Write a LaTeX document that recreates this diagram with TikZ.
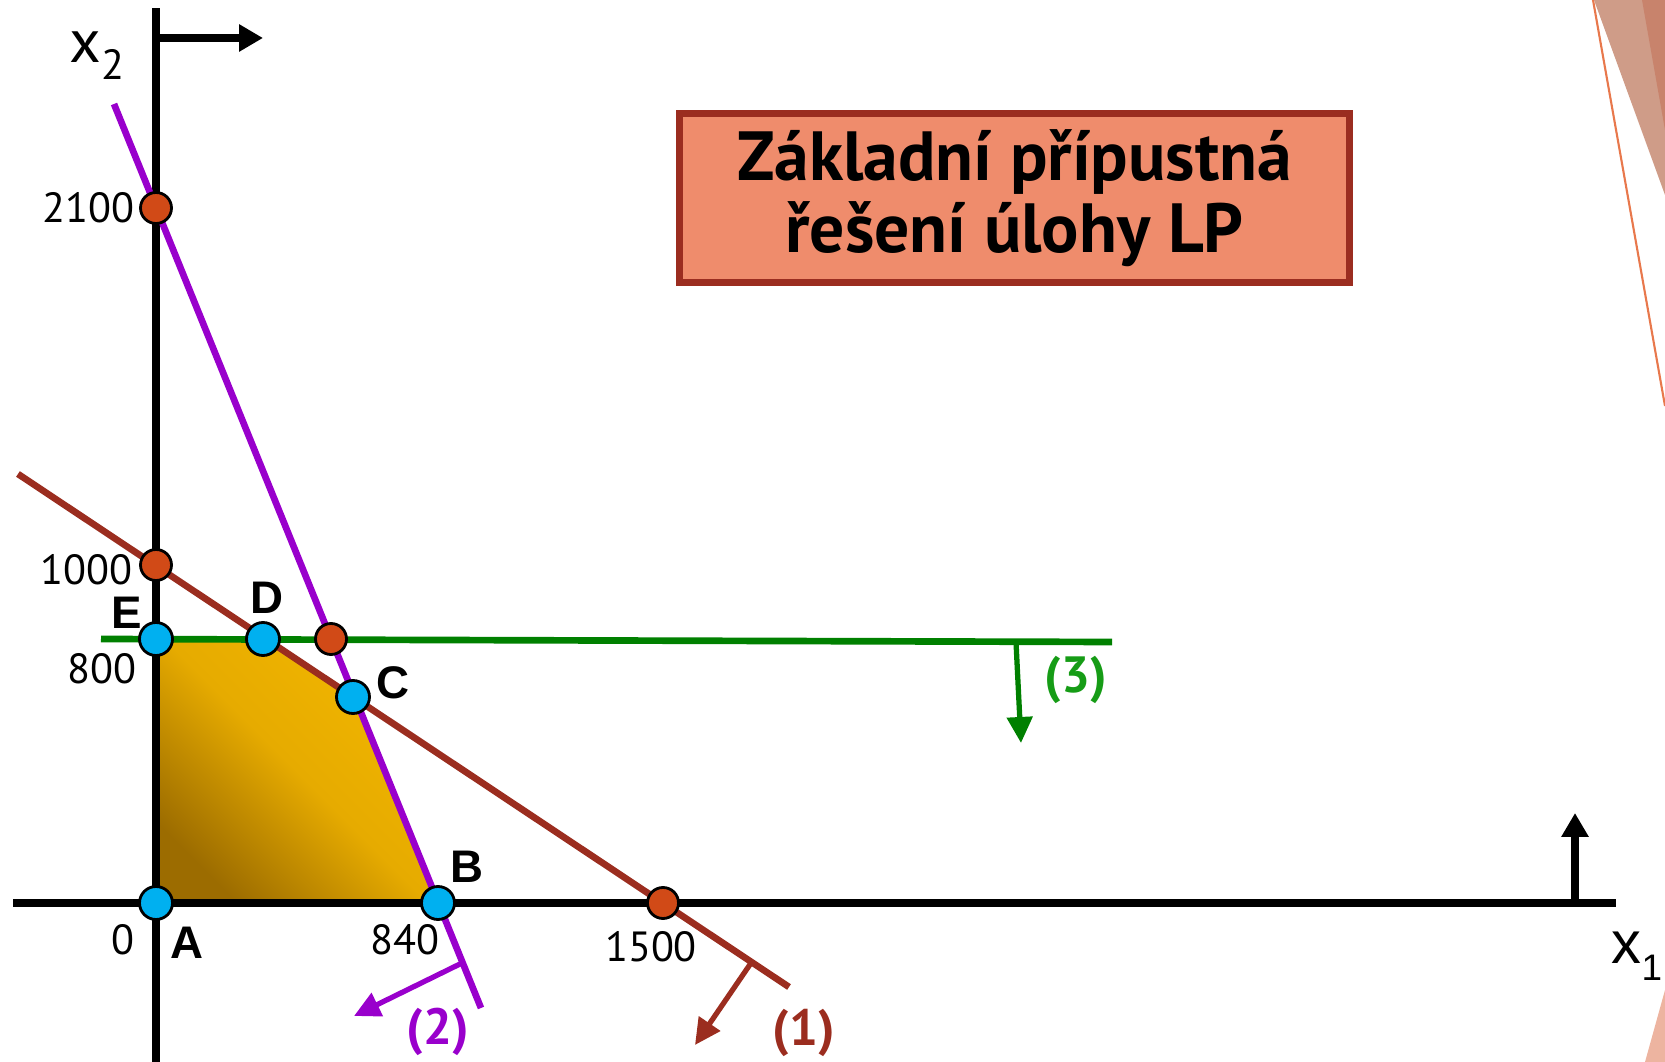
\documentclass[tikz,border=0pt]{standalone}
\usepackage{fontspec}
\setmainfont{PT Sans}
\newfontfamily\arialfont{Liberation Sans}
\usetikzlibrary{arrows.meta,positioning}
\definecolor{lineRed}{HTML}{9B2D1F}
\definecolor{linePurple}{HTML}{9900CC}
\definecolor{lineGreen}{HTML}{008000}
\definecolor{labGreen}{HTML}{169C16}
\definecolor{dotOrange}{HTML}{D14A17}
\definecolor{dotBlue}{HTML}{00B0F0}
\definecolor{goldLight}{HTML}{F2B600}
\definecolor{goldMid}{HTML}{E6AB00}
\definecolor{goldDark}{HTML}{9C6C00}
\definecolor{titleFill}{HTML}{EF8C6C}
\definecolor{titleBorder}{HTML}{9B2D20}
\definecolor{decoLight}{HTML}{CF9C88}
\definecolor{decoDark}{HTML}{C8836C}
\definecolor{decoLine}{HTML}{E8784C}
\definecolor{decoPale}{HTML}{EDB4A0}
\tikzset{
  axisline/.style={line width=2pt, black},
  axisarr/.style={-{Triangle[length=2.4mm,width=2.6mm]}, line width=2pt, black},
  bound/.style={line width=1.9pt, #1},
  normarr/.style={-{Triangle[length=2.6mm,width=2.5mm]}, line width=1.5pt, #1},
  vertex/.style={circle, draw=black, line width=0.8pt, fill=dotBlue,
    minimum size=0.33cm, inner sep=0pt},
  cutpt/.style={vertex, fill=dotOrange, minimum size=0.31cm},
  numlab/.style={font=\fontsize{12}{14}\selectfont, inner sep=0pt},
  ptlab/.style={font=\arialfont\bfseries\fontsize{13}{15}\selectfont, inner sep=0pt},
  conlab/.style={font=\bfseries\fontsize{14.5}{16}\selectfont, text=#1, inner sep=0pt},
  titlebox/.style={draw=titleBorder, line width=2pt, fill=titleFill,
    minimum width=6.70cm, minimum height=1.69cm, align=center,
    font=\bfseries\fontsize{19.8}{20.6}\selectfont}
}

\begin{document}
\begin{tikzpicture}[x=1cm,y=1cm]
  \useasboundingbox (0,0) rectangle (16.65,10.62);
  % slide corner decoration
  \fill[decoLight] (15.94,10.62) -- (16.65,10.62) -- (16.65,8.67) -- cycle;
  \fill[decoDark] (16.42,10.62) -- (16.65,10.62) -- (16.65,9.32) -- cycle;
  \draw[decoLine, line width=0.6pt] (15.93,10.62) -- (16.65,6.56);
  \fill[decoPale] (16.45,0) -- (16.65,0) -- (16.65,0.72) -- cycle;

  % feasible set
  \coordinate (A) at (1.56,1.59);
  \coordinate (B) at (4.38,1.59);
  \coordinate (C) at (3.53,3.65);
  \coordinate (D) at (2.63,4.23);
  \coordinate (E) at (1.56,4.23);
  \shade[bottom color=goldDark, top color=goldLight, middle color=goldMid,
    shading angle=-45] (A) -- (B) -- (C) -- (D) -- (E) -- cycle;

  % axes
  \coordinate (yBot) at (1.56,0);
  \coordinate (yTop) at (1.56,10.54);
  \coordinate (xLeft) at (0.13,1.59);
  \coordinate (xRight) at (16.16,1.59);
  \coordinate (yFlag) at (1.56,10.24);
  \coordinate (yFlagTip) at (2.63,10.24);
  \coordinate (xFlag) at (15.75,1.59);
  \coordinate (xFlagTip) at (15.75,2.49);
  \draw[axisline] (yBot) -- (yTop);
  \draw[axisline] (xLeft) -- (xRight);
  \draw[axisarr] (yFlag) -- (yFlagTip);
  \draw[axisarr] (xFlag) -- (xFlagTip);
  \node[font=\fontsize{17.5}{19}\selectfont, inner sep=0pt] (xTwo) at (0.97,10.06)
    {x\raisebox{-0.55ex}{\fontsize{12}{14}\selectfont 2}};
  \node[font=\arialfont\fontsize{17}{19}\selectfont, inner sep=0pt] (xOne) at (16.37,1.06)
    {x\raisebox{-0.55ex}{\fontsize{10.5}{12}\selectfont 1}};

  % constraints (1), (2), (3)
  \coordinate (p1a) at (0.18,5.88);
  \coordinate (p1b) at (7.89,0.75);
  \coordinate (p2a) at (1.14,9.58);
  \coordinate (p2b) at (4.81,0.54);
  \coordinate (p3a) at (1.01,4.23);
  \coordinate (p3b) at (11.12,4.20);
  \draw[bound=lineRed] (p1a) -- (p1b);
  \draw[bound=linePurple] (p2a) -- (p2b);
  \draw[bound=lineGreen] (p3a) -- (p3b);

  \coordinate (n1) at (7.51,0.99);
  \coordinate (n1tip) at (6.95,0.17);
  \coordinate (n2) at (4.62,0.99);
  \coordinate (n2tip) at (3.54,0.46);
  \coordinate (n3) at (10.16,4.20);
  \coordinate (n3tip) at (10.21,3.19);
  \draw[normarr=lineRed] (n1) -- (n1tip);
  \draw[normarr=linePurple] (n2) -- (n2tip);
  \draw[normarr=lineGreen] (n3) -- (n3tip);
  \node[conlab=lineRed] (lab1) at (8.04,0.29) {(1)};
  \node[conlab=linePurple] (lab2) at (4.38,0.30) {(2)};
  \node[conlab=labGreen] (lab3) at (10.76,3.82) {(3)};

  % intercepts
  \node[cutpt] (c2100) at (1.56,8.54) {};
  \node[cutpt] (c1000) at (1.56,4.97) {};
  \node[cutpt] (c1500) at (6.63,1.59) {};
  \node[cutpt] (c23) at (3.31,4.23) {};
  \node[numlab, left=1pt of c2100] {2100};
  \node[numlab, anchor=east] at (1.33,4.92) {1000};
  \node[numlab, anchor=east] at (1.37,3.93) {800};
  \node[numlab] at (1.23,1.22) {0};
  \node[numlab] at (4.05,1.22) {840};
  \node[numlab] at (6.51,1.15) {1500};

  % basic feasible solutions
  \node[vertex] (ptA) at (A) {};
  \node[vertex] (ptB) at (B) {};
  \node[vertex] (ptC) at (C) {};
  \node[vertex] (ptD) at (D) {};
  \node[vertex] (ptE) at (E) {};
  \node[ptlab] at (1.87,1.19) {A};
  \node[ptlab] at (4.67,1.95) {B};
  \node[ptlab] at (3.93,3.79) {C};
  \node[ptlab] at (2.67,4.64) {D};
  \node[ptlab] at (1.27,4.49) {E};

  \node[titlebox] (title) at (10.145,8.64) {Základní přípustná\\řešení úlohy LP};
\end{tikzpicture}
\end{document}
